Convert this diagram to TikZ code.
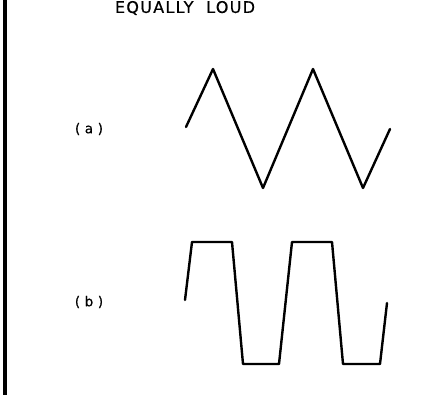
\documentclass[tikz,border=0pt]{standalone}
\usepackage{fontspec}
\newfontfamily\titlefont[LetterSpace=8,FakeBold=0.6]{DejaVu Sans}
\newfontfamily\labelfont[LetterSpace=34,FakeBold=0.6]{DejaVu Sans}
\begin{document}
\begin{tikzpicture}[x=1pt,y=-1pt, line join=round, line cap=round,
    wave/.style={line width=2.4pt},
    ttl/.style={font=\titlefont\fontsize{16}{16}\selectfont, inner sep=0pt},
    lbl/.style={font=\labelfont\fontsize{13.5}{14}\selectfont, inner sep=0pt}]
        \def\xmax{447} \def\ymax{395}
        \useasboundingbox (0,0) rectangle (\xmax,\ymax);
        % left border
        \draw[line width=3.5pt,line cap=butt] (5,0)--(5,\ymax);
        \node[ttl] (title) at (185,8) {EQUALLY\ \ LOUD};
        \node[lbl] (la) at (89,129) {(a)};
        \node[lbl] (lb) at (89,302) {(b)};
        % triangle wave
        \draw[wave] (186,127)--(213,69)--(263,188)--(313,69)--(363,188)--(390,129);
        % square wave
        \draw[wave] (185,300)--(192,242)--(232,242)--(243,364)--(279,364)--(292,242)
            --(332,242)--(343,364)--(380,364)--(387,303);
    \end{tikzpicture}
\end{document}
